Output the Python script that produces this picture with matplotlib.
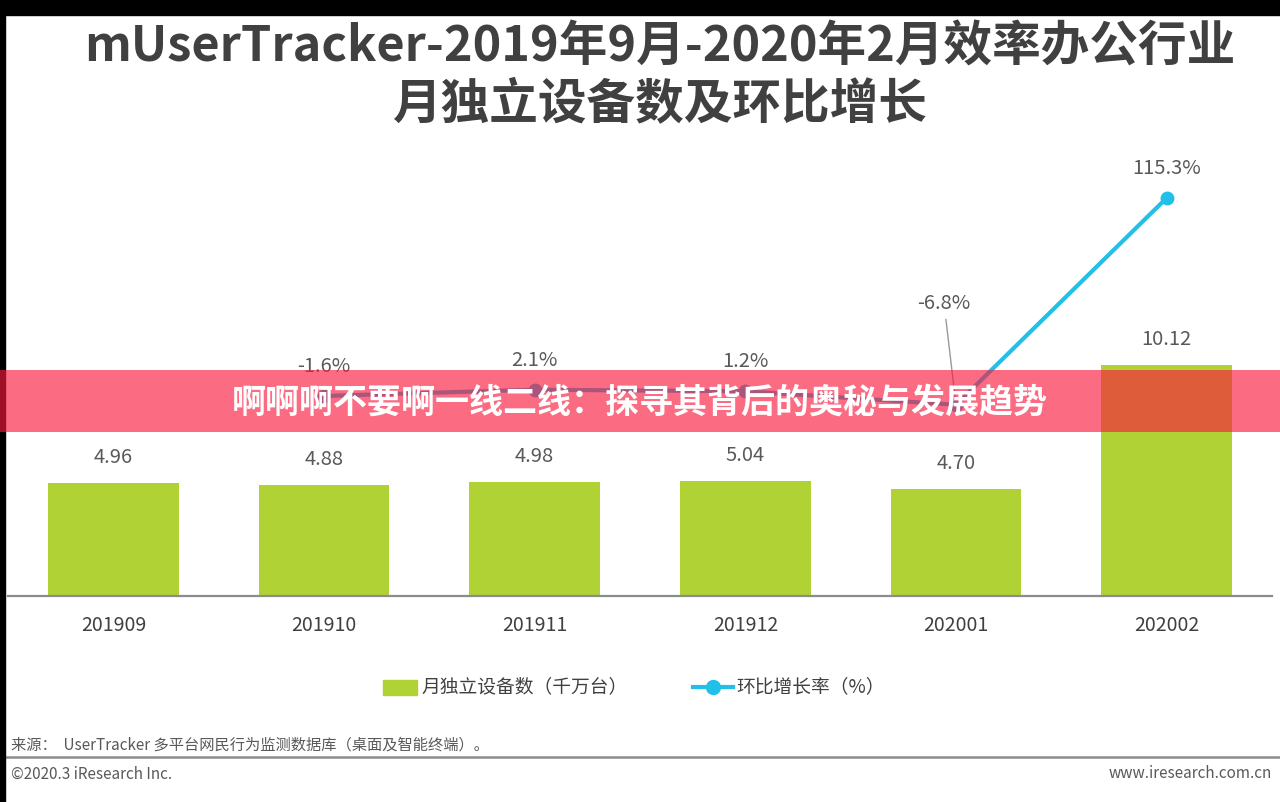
import matplotlib
matplotlib.use("Agg")
import matplotlib.pyplot as plt
from matplotlib.patches import Rectangle
from matplotlib.lines import Line2D

plt.rcParams['font.family'] = ['Noto Sans CJK SC', 'DejaVu Sans']

# ---- data ----
months = ['201909', '201910', '201911', '201912', '202001', '202002']
devices = [4.96, 4.88, 4.98, 5.04, 4.70, 10.12]          # 千万台
growth_months = ['201910', '201911', '201912', '202001', '202002']
growth = [-1.6, 2.1, 1.2, -6.8, 115.3]                   # %

title = 'mUserTracker-2019年9月-2020年2月效率办公行业\n月独立设备数及环比增长'
legend_bar = '月独立设备数（千万台）'
legend_line = '环比增长率（%）'
source = '来源：  UserTracker 多平台网民行为监测数据库（桌面及智能终端）。'
copyright_txt = '©2020.3 iResearch Inc.'
website = 'www.iresearch.com.cn'
banner = '啊啊啊不要啊一线二线：探寻其背后的奥秘与发展趋势'

BAR_C = '#b1d235'
LINE_C = '#22bfe9'
W, H = 1280, 802


def fx(x):
    return x / W


def fy(y):
    return 1 - y / H


fig = plt.figure(figsize=(12.8, 8.02), dpi=100)
fig.patch.set_facecolor('white')

# axes: x from 8 to 1272 px, y from 140 to 596 px
ax = fig.add_axes([fx(8), fy(596), fx(1272) - fx(8), fy(140) - fy(596)])
x = list(range(len(months)))
ax.bar(x, devices, width=0.62, color=BAR_C, zorder=2)
ax.set_xlim(-0.5, len(months) - 0.5)
ax.set_ylim(0, 19.977)
for s in ['top', 'right', 'left']:
    ax.spines[s].set_visible(False)
ax.spines['bottom'].set_color('#8c8c8c')
ax.spines['bottom'].set_linewidth(1.6)
ax.set_yticks([])
ax.set_xticks(x)
ax.set_xticklabels(months, fontsize=14, color='#404040')
ax.tick_params(axis='x', length=0, pad=14)
ax.patch.set_alpha(0)
for xi, v in zip(x, devices):
    ax.annotate(f'{v:.2f}', (xi, v), xytext=(0, 15), textcoords='offset pixels',
                ha='center', va='bottom', fontsize=14.5, color='#595959')

ax2 = ax.twinx()
ax2.set_ylim(-119.66, 149.5)
ax2.axis('off')
gx = [months.index(m) for m in growth_months]
ax2.plot(gx, growth, color=LINE_C, lw=3, marker='o', ms=9, zorder=3)
for xi, v in zip(gx, growth):
    if v == -6.8:
        ax2.annotate(f'{v:.1f}%', (xi, v), xytext=(-12, 91), textcoords='offset pixels',
                     ha='center', va='bottom', fontsize=14.5, color='#595959',
                     arrowprops=dict(arrowstyle='-', color='#999999', lw=1,
                                     shrinkA=2, shrinkB=6))
    else:
        ax2.annotate(f'{v:.1f}%', (xi, v), xytext=(0, 19), textcoords='offset pixels',
                     ha='center', va='bottom', fontsize=14.5, color='#595959')

# title
fig.text(fx(660), fy(76), title, ha='center', va='center', fontsize=35,
         fontweight='bold', color='#404040', linespacing=1.22)

# legend (manual)
fig.add_artist(Rectangle((fx(383), fy(695)), fx(34), fy(680) - fy(695),
                         color=BAR_C, transform=fig.transFigure))
fig.text(fx(421), fy(687), legend_bar, ha='left', va='center', fontsize=13.5, color='#404040')
fig.add_artist(Line2D([fx(693), fx(733)], [fy(687), fy(687)], color=LINE_C, lw=3,
                      transform=fig.transFigure))
fig.add_artist(Line2D([fx(713)], [fy(687)], color=LINE_C, marker='o', ms=10,
                      transform=fig.transFigure))
fig.text(fx(736), fy(687), legend_line, ha='left', va='center', fontsize=13.5, color='#404040')

# footer
fig.text(fx(11), fy(745), source, ha='left', va='center', fontsize=11, color='#595959')
fig.add_artist(Line2D([fx(5), fx(1280)], [fy(757), fy(757)], color='#8c8c8c', lw=1.8,
                      transform=fig.transFigure))
fig.text(fx(11), fy(774), copyright_txt, ha='left', va='center', fontsize=11, color='#595959')
fig.text(fx(1272), fy(774), website, ha='right', va='center', fontsize=11, color='#595959')

# black border strips
fig.add_artist(Rectangle((0, fy(15)), 1, fy(0) - fy(15), color='black',
                         transform=fig.transFigure, zorder=4))
fig.add_artist(Rectangle((0, 0), fx(5), 1, color='black',
                         transform=fig.transFigure, zorder=4))

# banner overlay
fig.add_artist(Rectangle((0, fy(432)), 1, fy(370) - fy(432), facecolor='#fa193e',
                         alpha=0.64, edgecolor='none', transform=fig.transFigure, zorder=10))
fig.text(fx(640), fy(402), banner, ha='center', va='center', fontsize=24.5,
         fontweight='black', color='white', zorder=11)

fig.savefig('out.png', dpi=100)
